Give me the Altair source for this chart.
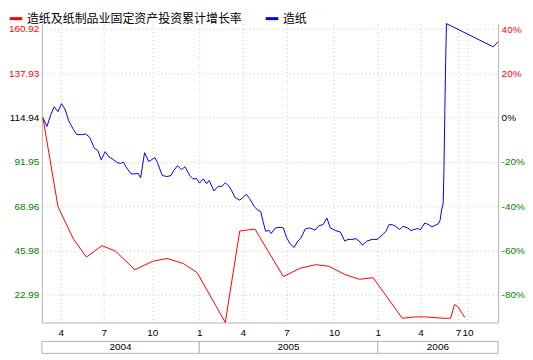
import altair as alt
import pandas as pd

blue_name = "造纸"
red_name = "造纸及纸制品业固定资产投资累计增长率"

# x is a sequential period index (roughly one unit per trading week)
blue_t = [0.3, 1.51, 2.66, 3.63, 4.77, 5.8, 6.94, 7.91, 9.34, 10.29, 11.71, 12.94, 14.09, 15.51,
          16.49, 17.51, 18.66, 19.8, 20.94, 22.2, 23.14, 24.09, 24.77, 26.29, 27.43, 28.37, 29.14,
          30.29, 31.51, 32.66, 33.34, 34.09, 35.51, 36.94, 38.09, 38.86, 40.0, 41.23, 42.2, 43.63,
          44.57, 45.71, 46.49, 47.63, 48.57, 49.34, 50.77, 52.0, 53.14, 54.09, 55.23, 56.0, 56.94,
          58.37, 59.34, 60.29, 61.23, 62.66, 63.63, 64.57, 65.23, 66.0, 66.94, 67.63, 68.86, 70.29,
          71.23, 72.2, 73.14, 74.37, 75.51, 76.29, 77.71, 78.86, 79.8, 80.57, 81.71, 82.94, 84.09,
          85.06, 86.49, 88.09, 89.34, 90.29, 91.43, 92.66, 93.91, 94.57, 95.8, 97.43, 98.86, 100.57,
          101.51, 102.37, 103.34, 104.37, 105.51, 106.49, 107.91, 108.86, 109.8, 110.77, 111.71,
          112.94, 114.09, 115.06, 116.94, 117.43, 117.91, 118.37, 118.57, 118.86, 119.09, 119.34,
          133.14, 134.57]
blue_v = [114.94, 110.35, 116.62, 120.55, 118.0, 122.23, 118.86, 113.26, 108.67, 106.12, 106.12,
          106.43, 104.75, 98.98, 97.96, 93.02, 97.25, 94.55, 93.38, 91.64, 91.13, 91.85, 89.45,
          85.73, 85.73, 86.04, 83.69, 96.74, 92.15, 93.38, 94.19, 91.64, 84.86, 84.35, 84.86, 87.41,
          89.96, 87.92, 89.45, 84.86, 83.18, 83.18, 80.94, 83.18, 80.63, 82.32, 76.86, 79.26, 79.26,
          81.14, 79.26, 76.96, 73.5, 72.12, 73.5, 75.18, 72.99, 68.7, 67.02, 66.16, 61.06, 55.96,
          56.47, 54.79, 57.69, 58.0, 57.69, 52.6, 49.69, 47.5, 50.86, 52.09, 57.18, 57.69, 57.18,
          56.47, 58.87, 59.38, 62.79, 57.69, 56.47, 55.45, 50.86, 51.73, 51.73, 52.09, 50.35, 48.67,
          50.86, 51.73, 51.73, 54.28, 55.96, 59.38, 59.38, 58.51, 56.83, 58.51, 57.69, 56.32, 56.83,
          57.34, 56.83, 60.24, 59.38, 58.2, 59.89, 61.42, 67.02, 70.44, 84.86, 118.0, 143.49,
          163.72, 151.64, 154.35]

red_t = [0.3, 4.77, 9.34, 13.14, 17.71, 21.71, 27.43, 32.66, 36.94, 41.71, 45.8, 54.09, 58.37,
         61.23, 62.86, 71.23, 76.0, 80.77, 84.57, 89.34, 93.63, 97.71, 106.29, 110.09, 113.14,
         118.37, 120.57, 121.71, 122.66, 124.77]
red_pct = [0.0, -40.3, -54.9, -63.0, -57.8, -60.3, -68.7, -64.9, -63.6, -65.9, -70.0, -92.5, -51.2,
           -50.6, -50.4, -71.8, -68.1, -66.4, -67.1, -70.8, -73.0, -72.3, -90.6, -90.0, -90.0,
           -90.6, -90.6, -84.4, -85.3, -90.3]

tick_t = [5.57, 18.29, 32.57, 46.43, 59.29, 72.14, 86.14, 99.06, 111.71, 122.71, 125.57]
tick_labels = ["4", "7", "10", "1", "4", "7", "10", "1", "4", "7", "10"]

years = ["2004", "2005", "2006"]
year_start = [0.0, 46.43, 99.06]
year_end = [46.43, 99.06, 134.57]

left_ticks = [22.99, 45.98, 68.96, 91.95, 114.94, 137.93, 160.92]
right_ticks = [-80, -60, -40, -20, 0, 20, 40]
base_value = 114.94
x_domain = [0.0, 134.57]
left_domain = [8.62, 163.72]
right_domain = [(d / base_value - 1) * 100 for d in left_domain]

W = 458
H = 300
AXIS_FONT = "Liberation Sans"
GRID = "#c8c8c8"
DOMAIN = "#b4b4b4"

blue_df = pd.DataFrame({"t": blue_t, "v": blue_v, "series": blue_name})
red_df = pd.DataFrame({"t": red_t, "pct": red_pct, "series": red_name})
year_df = pd.DataFrame({"year": years, "start": year_start, "end": year_end})

label_js = "[" + ",".join("'%s'" % s for s in tick_labels) + "]"
vals_js = "[" + ",".join(str(v) for v in tick_t) + "]"

x_scale = alt.Scale(domain=x_domain, nice=False, zero=False)
x_axis = alt.Axis(values=tick_t, labelExpr=f"{label_js}[indexof({vals_js}, datum.value)]",
                  grid=True, gridColor=GRID, gridDash=[1, 3], ticks=False,
                  domainColor=DOMAIN, labelFontSize=10, labelFont=AXIS_FONT,
                  labelColor="black", labelPadding=5, title=None, labelFlush=False,
                  labelOverlap=False)

left_axis = alt.Axis(values=left_ticks, format=".2f", orient="left", grid=True, gridColor=GRID,
                     gridDash=[1, 3], ticks=False, domainColor=DOMAIN, labelFontSize=10,
                     labelFont=AXIS_FONT, labelPadding=3, title=None,
                     labelColor={"condition": [{"test": "datum.value > 115", "value": "#ff0000"},
                                               {"test": "datum.value > 114", "value": "#000000"}],
                                 "value": "#008000"})
right_axis = alt.Axis(values=right_ticks, labelExpr="datum.value + '%'", orient="right",
                      grid=False, ticks=False, domainColor=DOMAIN, labelFontSize=10,
                      labelFont=AXIS_FONT, labelPadding=3, title=None,
                      labelColor={"condition": [{"test": "datum.value > 0.5", "value": "#ff0000"},
                                                {"test": "datum.value > -0.5", "value": "#000000"}],
                                  "value": "#008000"})

legend = alt.Legend(title=None, orient="none", legendX=-34, legendY=-13, direction="horizontal",
                    symbolType="stroke", symbolStrokeWidth=3, symbolSize=160,
                    labelFontSize=12, labelFont="Noto Sans CJK SC", labelColor="black",
                    columnPadding=16, labelOffset=3, labelLimit=400)
color = alt.Color("series:N", scale=alt.Scale(domain=[red_name, blue_name],
                                              range=["#ff0000", "#0000ff"]), legend=legend)

blue = alt.Chart(blue_df).mark_line(strokeWidth=1).encode(
    x=alt.X("t:Q", scale=x_scale, axis=x_axis),
    y=alt.Y("v:Q", scale=alt.Scale(domain=left_domain, nice=False, zero=False), axis=left_axis),
    color=color,
)
red = alt.Chart(red_df).mark_line(strokeWidth=1).encode(
    x=alt.X("t:Q", scale=x_scale, axis=x_axis),
    y=alt.Y("pct:Q", scale=alt.Scale(domain=right_domain, nice=False, zero=False), axis=right_axis),
    color=color,
)
band = alt.Chart(year_df).mark_rect(fill="white", stroke=DOMAIN, strokeWidth=1).encode(
    x=alt.X("start:Q", scale=x_scale, axis=x_axis),
    x2="end:Q",
    y=alt.value(H + 19),
    y2=alt.value(H + 31),
)
band_text = alt.Chart(year_df).transform_calculate(
    mid="(datum.start + datum.end) / 2"
).mark_text(fontSize=10, font=AXIS_FONT, baseline="middle", color="black").encode(
    x=alt.X("mid:Q", scale=x_scale, axis=x_axis),
    y=alt.value(H + 25),
    text="year:N",
)

chart = alt.layer(blue, red, band, band_text).resolve_scale(
    y="independent"
).properties(width=W, height=H, background="white",
             padding={"top": 2, "left": 0, "right": 0, "bottom": 0}).configure_view(stroke=None)

chart.save("out.html", embed_options={"renderer": "svg", "actions": False})
